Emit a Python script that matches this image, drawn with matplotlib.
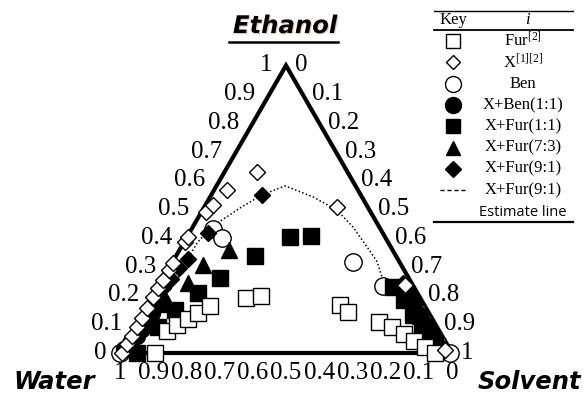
import numpy as np
import matplotlib.pyplot as plt
import matplotlib.patheffects as pe

plt.rcParams['font.family'] = 'serif'
plt.rcParams['font.serif'] = ['Liberation Serif', 'DejaVu Serif']
plt.rcParams['mathtext.fontset'] = 'custom'
plt.rcParams['mathtext.rm'] = 'Liberation Serif'
plt.rcParams['mathtext.it'] = 'Liberation Serif:italic'

# mass fractions (solvent, ethanol); water = 1 - solvent - ethanol
fur_solvent = [0.105, 0.103, 0.123, 0.146, 0.165, 0.189, 0.284, 0.326,
               0.579, 0.615, 0.726, 0.774, 0.822, 0.865, 0.908, 0.949]
fur_ethanol = [0.000, 0.077, 0.097, 0.118, 0.139, 0.163, 0.191, 0.198,
               0.167, 0.143, 0.108, 0.090, 0.066, 0.042, 0.021, 0.000]

x_solvent = [0.005, 0.005, 0.005, 0.005, 0.005, 0.005, 0.003, 0.003, 0.002,
             0.002, 0.002, 0.002, 0.003, 0.014, 0.023, 0.040, 0.098, 0.400,
             0.740, 0.975]
x_ethanol = [0.000, 0.030, 0.060, 0.090, 0.120, 0.155, 0.195, 0.225, 0.254,
             0.289, 0.313, 0.386, 0.403, 0.490, 0.515, 0.567, 0.630, 0.508,
             0.237, 0.010]

# open markers hidden partly behind the dense cluster near the solvent corner
x_corner_solvent = [0.815, 0.855, 0.895, 0.935]
x_corner_ethanol = [0.160, 0.120, 0.080, 0.045]

ben_solvent = [0.000, 0.064, 0.107, 0.544, 0.676, 0.995]
ben_ethanol = [0.000, 0.431, 0.400, 0.317, 0.233, 0.000]

xben_solvent = [0.025, 0.020, 0.025, 0.020, 0.025, 0.020, 0.012, 0.005,
                0.735, 0.770, 0.805, 0.840, 0.875, 0.905, 0.935, 0.960]
xben_ethanol = [0.190, 0.168, 0.140, 0.112, 0.085, 0.060, 0.035, 0.015,
                0.225, 0.190, 0.160, 0.125, 0.092, 0.062, 0.035, 0.015]

xfur11_solvent = [0.310, 0.372, 0.238, 0.171, 0.131, 0.091, 0.069, 0.051,
                  0.707, 0.763, 0.817, 0.870, 0.924]
xfur11_ethanol = [0.403, 0.407, 0.337, 0.261, 0.209, 0.150, 0.090, 0.000,
                  0.230, 0.184, 0.132, 0.080, 0.038]

xfur73_solvent = [0.149, 0.097, 0.083, 0.060, 0.770, 0.840, 0.910]
xfur73_ethanol = [0.358, 0.306, 0.243, 0.170, 0.190, 0.130, 0.060]

xfur91_solvent = [0.153, 0.056, 0.042, 0.030, 0.025, 0.017, 0.020, 0.020,
                  0.015, 0.010, 0.005, 0.730, 0.765, 0.800, 0.835, 0.865,
                  0.895, 0.920, 0.945, 0.970, 0.820, 0.880, 0.925]
xfur91_ethanol = [0.550, 0.417, 0.327, 0.296, 0.257, 0.226, 0.190, 0.143,
                  0.097, 0.056, 0.017, 0.245, 0.210, 0.175, 0.140, 0.110,
                  0.080, 0.055, 0.030, 0.010, 0.150, 0.095, 0.050]

# estimated binodal curve for X+Fur(9:1)
est_solvent = [0.045, 0.040, 0.041, 0.054, 0.109, 0.153, 0.207, 0.310,
               0.405, 0.483, 0.564, 0.616, 0.665]
est_ethanol = [0.261, 0.323, 0.383, 0.435, 0.504, 0.550, 0.581, 0.543,
               0.497, 0.438, 0.365, 0.317, 0.254]

tick_values = [0.0, 0.1, 0.2, 0.3, 0.4, 0.5, 0.6, 0.7, 0.8, 0.9, 1.0]
tick_labels = ['0', '0.1', '0.2', '0.3', '0.4', '0.5', '0.6', '0.7', '0.8', '0.9', '1']

SQ3 = np.sqrt(3) / 2


def to_xy(solvent, ethanol):
    s = np.asarray(solvent, dtype=float)
    e = np.asarray(ethanol, dtype=float)
    return s + e / 2, e * SQ3


fig = plt.figure(figsize=(5.85, 3.98), dpi=100)
ax = fig.add_axes([0, 0, 1, 1])
ax.set_xlim(-120 / 332, 465 / 332)
ax.set_ylim(-45 / 332, 353 / 332)
ax.axis('off')

# triangle frame
fx, fy = to_xy([0, 1, 0, 0], [0, 0, 1, 0])
ax.plot(fx, fy, color='black', lw=3, solid_joinstyle='miter', solid_capstyle='butt', zorder=1)

tick_font = dict(fontfamily='Liberation Serif', fontsize=18, color='black')
for t, lab in zip(tick_values, tick_labels):
    x, y = to_xy(0, t)          # ethanol, left edge
    ax.annotate(lab, (x, y), xytext=(-10, 0), textcoords='offset points',
                ha='right', va='center', **tick_font)
    x, y = to_xy(t, 1 - t)      # solvent, right edge
    ax.annotate(lab, (x, y), xytext=(6.5, 0), textcoords='offset points',
                ha='left', va='center', **tick_font)
    x, y = to_xy(1 - t, 0)      # water, bottom edge
    ax.annotate(lab, (x, y), xytext=(0, -14.5), textcoords='offset points',
                ha='center', va='center', **tick_font)

# estimate line
ex, ey = to_xy(est_solvent, est_ethanol)
ax.plot(ex, ey, color='black', lw=1.1, ls=(0, (1, 1.5)), zorder=2)

series = [
    (x_corner_solvent, x_corner_ethanol, dict(marker='D', ms=8.2, mfc='white'), 2.5),
    (ben_solvent, ben_ethanol, dict(marker='o', ms=12.5, mfc='white'), 3),
    (xben_solvent, xben_ethanol, dict(marker='o', ms=11.5, mfc='black'), 4),
    (xfur11_solvent, xfur11_ethanol, dict(marker='s', ms=11, mfc='black'), 5),
    (xfur73_solvent, xfur73_ethanol, dict(marker='^', ms=12, mfc='black'), 6),
    (xfur91_solvent, xfur91_ethanol, dict(marker='D', ms=8.5, mfc='black'), 7),
    (fur_solvent, fur_ethanol, dict(marker='s', ms=11, mfc='white'), 8),
    (x_solvent, x_ethanol, dict(marker='D', ms=8.2, mfc='white'), 9),
]
for s_vals, e_vals, style, z in series:
    px, py = to_xy(s_vals, e_vals)
    ax.plot(px, py, ls='none', mec='black', mew=1.0, zorder=z, **style)

# overlay in pixel units for titles and the key table
pax = fig.add_axes([0, 0, 1, 1])
pax.set_xlim(0, 585)
pax.set_ylim(398, 0)
pax.axis('off')
pax.patch.set_alpha(0)

corner_font = dict(fontfamily='DejaVu Sans', fontsize=17.5, fontweight='bold', style='italic',
                   ha='center', va='center')
pax.text(285, 26, 'Ethanol', **corner_font,
         path_effects=[pe.withSimplePatchShadow(offset=(0.8, -0.8), shadow_rgbFace='#a06030', alpha=0.35)])
pax.plot([229, 338], [41.5, 41.5], color='black', lw=1.8)
pax.text(54, 382, 'Water', **corner_font)
pax.text(529, 382, 'Solvent', **corner_font)

# key table
key_labels = ['Fur$^{[2]}$', 'X$^{[1][2]}$', 'Ben', 'X+Ben(1:1)', 'X+Fur(1:1)',
              'X+Fur(7:3)', 'X+Fur(9:1)', 'X+Fur(9:1)']
key_styles = [
    dict(marker='s', ms=10, mfc='white'),
    dict(marker='D', ms=7.4, mfc='white'),
    dict(marker='o', ms=11.5, mfc='white'),
    dict(marker='o', ms=11.5, mfc='black'),
    dict(marker='s', ms=9.5, mfc='black'),
    dict(marker='^', ms=10.5, mfc='black'),
    dict(marker='D', ms=8.5, mfc='black'),
    None,
]
key_x0, key_x1 = 434, 573
mark_x, text_x = 453, 523
row_y0, row_dy = 41, 21.3

pax.plot([key_x0, key_x1], [11, 11], color='black', lw=1.0)
pax.plot([key_x0, key_x1], [30, 30], color='black', lw=1.3)
pax.plot([key_x0, key_x1], [222, 222], color='black', lw=1.6)
key_font = dict(fontfamily='Liberation Serif', fontsize=12, color='black', ha='center', va='center')
pax.text(mark_x, 20, 'Key', **key_font)
pax.text(527, 20, 'i', style='italic', **key_font)

for i, (lab, st) in enumerate(zip(key_labels, key_styles)):
    y = row_y0 + i * row_dy
    if st is None:
        pax.plot([440, 466], [y, y], color='black', lw=1.0, ls=(0, (3, 2)))
    else:
        pax.plot([mark_x], [y], ls='none', mec='black', mew=1.0, **st)
    pax.text(text_x, y, lab, **key_font)
pax.text(text_x, 213, 'Estimate line', fontfamily='Open Sans', fontsize=10.5,
         color='black', ha='center', va='center')

fig.savefig('out.png', dpi=100)
